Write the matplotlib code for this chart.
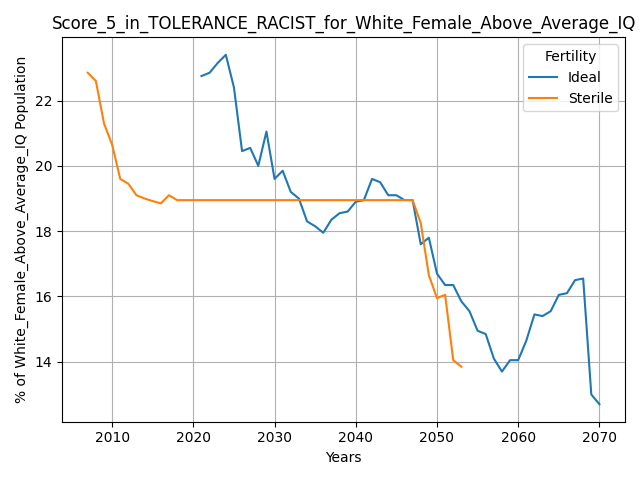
import matplotlib
matplotlib.use("Agg")
import matplotlib.pyplot as plt

# Ideal series
ideal_years = list(range(2021, 2071))
ideal_vals = [22.75, 22.85, 23.15, 23.4, 22.4, 20.45, 20.55, 20.0, 21.05, 19.6,
              19.85, 19.2, 19.0, 18.3, 18.15, 17.95, 18.35, 18.55, 18.6, 18.9,
              18.95, 19.6, 19.5, 19.1, 19.1, 18.95, 18.95, 17.6, 17.8, 16.7,
              16.35, 16.35, 15.85, 15.55, 14.95, 14.85, 14.1, 13.7, 14.05, 14.05,
              14.65, 15.45, 15.4, 15.55, 16.05, 16.1, 16.5, 16.55, 13.0, 12.7]

# Sterile series
sterile_years = list(range(2007, 2054))
sterile_vals = [22.85, 22.6, 21.3, 20.65, 19.6, 19.45, 19.1, 19.0, 18.92, 18.85,
                19.1] + [18.95] * 30 + [18.25, 16.65, 15.95, 16.05, 14.05, 13.85]

fig, ax = plt.subplots(figsize=(6.4, 4.8), dpi=100)
ax.plot(ideal_years, ideal_vals, label="Ideal")
ax.plot(sterile_years, sterile_vals, label="Sterile")
ax.set_title("Score_5_in_TOLERANCE_RACIST_for_White_Female_Above_Average_IQ")
ax.set_xlabel("Years")
ax.set_ylabel("% of White_Female_Above_Average_IQ Population")
ax.grid(True)
ax.legend(title="Fertility")
fig.tight_layout()
fig.savefig("out.png")
